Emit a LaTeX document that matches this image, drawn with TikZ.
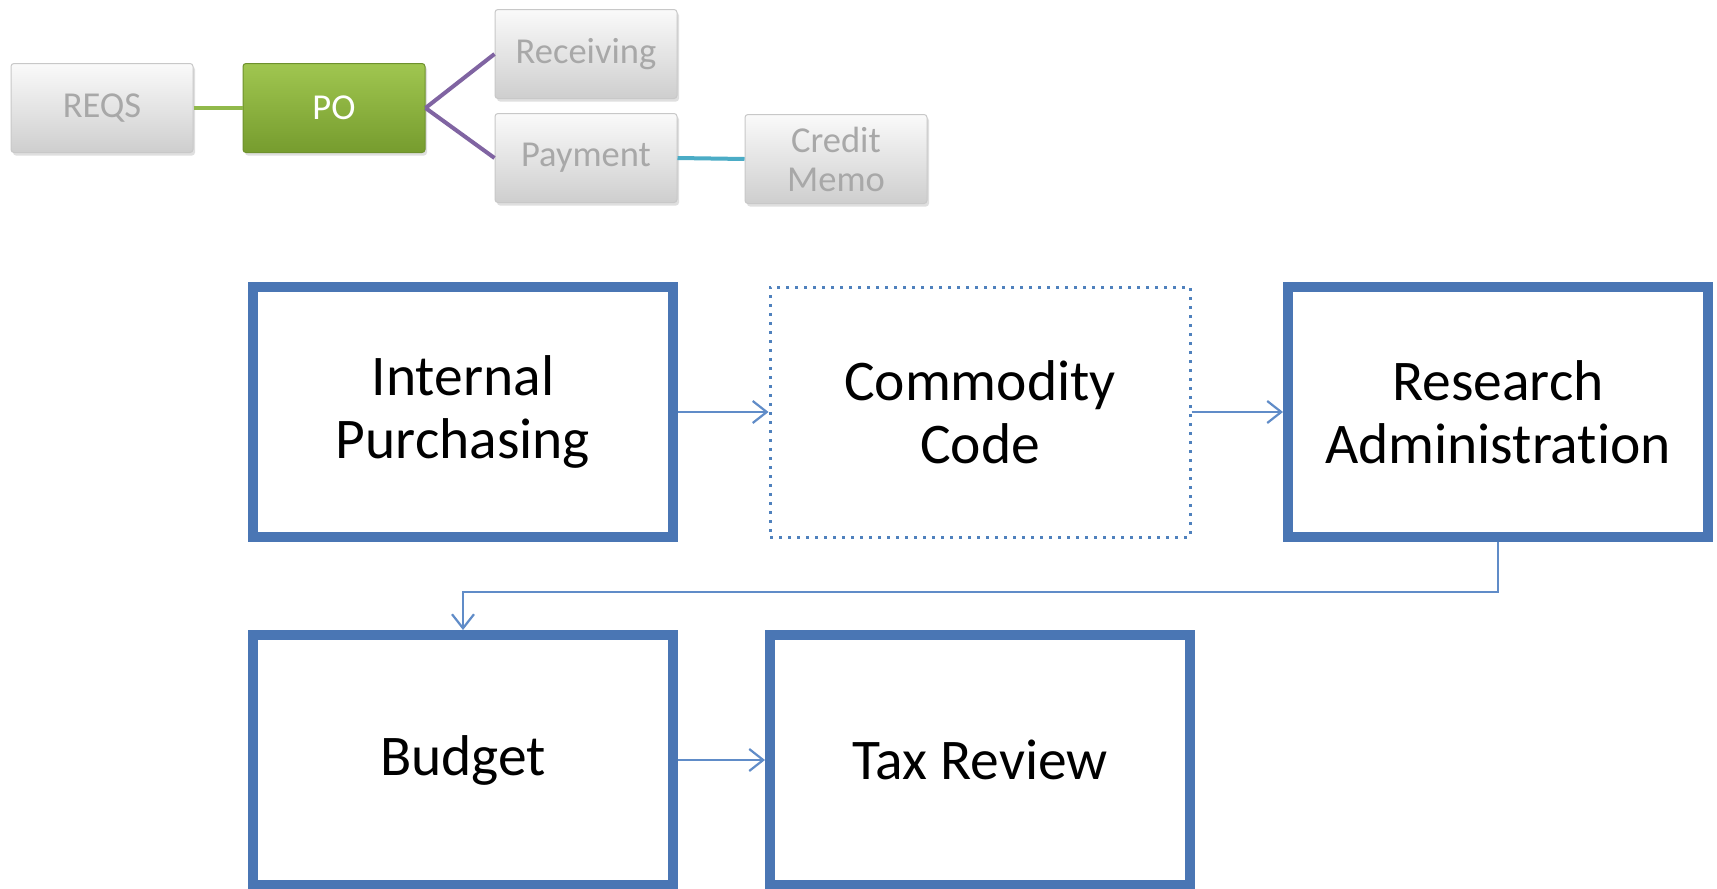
\documentclass[tikz,border=0pt]{standalone}
\usepackage{fontspec}
\setmainfont{Carlito}[Ligatures={NoCommon}]
\usetikzlibrary{arrows.meta,shadows}
\definecolor{boxblue}{RGB}{74,118,180}
\definecolor{dotblue}{RGB}{79,129,189}
\definecolor{arrowblue}{RGB}{96,140,200}
\definecolor{greytxt}{RGB}{168,168,168}
\definecolor{greytop}{RGB}{250,250,250}
\definecolor{greybot}{RGB}{206,206,206}
\definecolor{greyedge}{RGB}{200,200,200}
\definecolor{gtop}{RGB}{160,198,80}
\definecolor{gbot}{RGB}{118,156,46}
\definecolor{gedge}{RGB}{110,145,45}
\definecolor{linkgreen}{RGB}{145,185,75}
\definecolor{linkpurple}{RGB}{128,100,162}
\definecolor{linkcyan}{RGB}{75,172,198}
\tikzset{
  bigbox/.style={draw=boxblue, line width=10pt, fill=white, minimum width=420pt,
    minimum height=250pt, inner sep=0pt, align=center, text=black,
    font=\fontsize{57.5}{63}\selectfont},
  dotbox/.style={bigbox, draw=dotblue, line width=3pt, dash pattern=on 3pt off 6pt},
  smallbox/.style={rounded corners=3pt, draw=greyedge, line width=1pt,
    top color=greytop, bottom color=greybot, minimum width=182pt, minimum height=89pt,
    inner sep=0pt, align=center, text=greytxt, font=\fontsize{36.5}{39}\selectfont,
    drop shadow={opacity=0.25, shadow xshift=2pt, shadow yshift=-3pt}},
  greenbox/.style={smallbox, top color=gtop, bottom color=gbot, draw=gedge, text=white},
  flow/.style={draw=arrowblue, line width=2.2pt, -{Straight Barb[length=14pt,width=22pt,line width=2.2pt]}},
  link/.style={line width=4pt}
}
\begin{document}
\begin{tikzpicture}[x=1pt,y=-1pt]
\useasboundingbox (0,0) rectangle (1717,889);
\fill[white] (0,0) rectangle (1717,889);

% top small diagram
\node[smallbox] (reqs) at (102,108) {REQS};
\node[greenbox] (po) at (334,108) {PO};
\node[smallbox] (recv) at (586,54) {Receiving};
\node[smallbox] (pay) at (586,158) {Payment};
\node[smallbox] (cm) at (836,159) {Credit\\Memo};
\draw[link, linkgreen] (reqs.east) -- (po.west);
\draw[link, linkpurple] (po.east) -- (recv.west);
\draw[link, linkpurple] (po.east) -- (pay.west);
\draw[link, linkcyan] (pay.east) -- (cm.west);

% main flow
\node[bigbox] (ip) at (463,412) {Internal\\Purchasing};
\node[dotbox] (cc) at (980,412) {Commodity\\Code};
\node[bigbox] (ra) at (1498,412) {Research\\Administration};
\node[bigbox] (bud) at (463,760) {Budget};
\node[bigbox] (tax) at (980,760) {Tax Review};

\draw[flow] (ip.east) -- (cc.west);
\draw[flow] (cc.east) -- (ra.west);
\draw[flow] (ra.south) -- ++(0,50) -| (bud.north);
\draw[flow] (bud.east) -- (tax.west);
\end{tikzpicture}
\end{document}
